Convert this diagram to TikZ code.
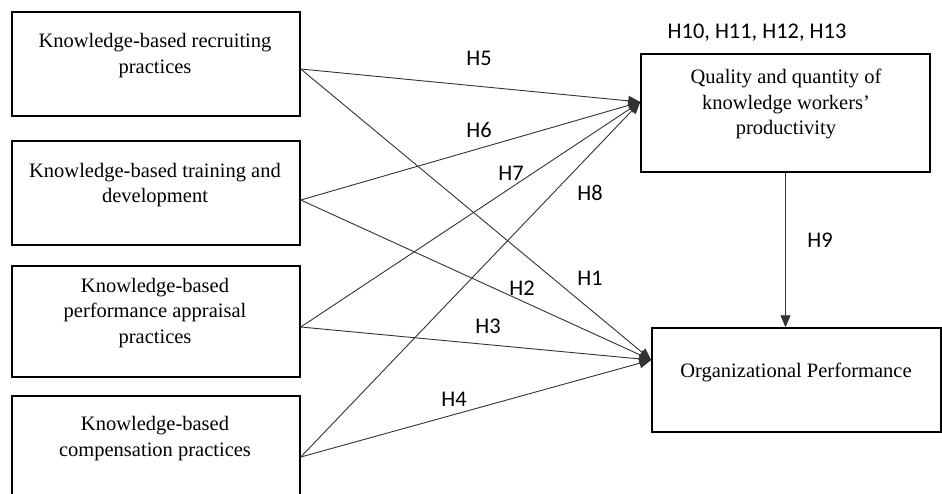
\documentclass[tikz,border=0pt]{standalone}
\usepackage{fontspec}
\setmainfont{Liberation Serif}
\newfontfamily\labfont{Carlito}
\usetikzlibrary{arrows.meta}
\begin{document}
\begin{tikzpicture}[x=1pt,y=-1pt,
  box/.style={draw=black,line width=1.5pt,rectangle,inner sep=0pt},
  boxtext/.style={align=center,font=\fontsize{20.5}{25.5}\selectfont,inner sep=0pt},
  hyp/.style={font=\labfont\fontsize{22.4}{26}\selectfont,inner sep=0pt},
  link/.style={draw=black!80,line width=0.9pt,-{Triangle[length=12pt,width=10pt]}}]
\useasboundingbox (0,0) rectangle (942,493);
\clip (0,0) rectangle (942,493);
\fill[white] (0,0) rectangle (942,493);
% boxes
\node[box,minimum width=288pt,minimum height=104pt] (b1) at (156,64) {};
\node[box,minimum width=288pt,minimum height=104pt] (b2) at (156,193) {};
\node[box,minimum width=288pt,minimum height=111pt] (b3) at (156,321.5) {};
\node[box,minimum width=288pt,minimum height=111pt] (b4) at (156,451.5) {};
\node[box,minimum width=289pt,minimum height=118pt] (q) at (785.5,113) {};
\node[box,minimum width=289pt,minimum height=104pt] (o) at (796.5,380) {};
% texts
\node[boxtext] (t1) at (155,55.5) {Knowledge-based recruiting\\practices};
\node[boxtext] (t2) at (155,185) {Knowledge-based training and\\development};
\node[boxtext] (t3) at (155,313) {Knowledge-based\\performance appraisal\\practices};
\node[boxtext] (t4) at (155,438.5) {Knowledge-based\\compensation practices};
\node[boxtext] (tq) at (786,104) {Quality and quantity of\\knowledge workers’\\productivity};
\node[boxtext] (to) at (796,372) {Organizational Performance};
% anchors for connectors
\coordinate (s1) at ([yshift=-5pt]b1.east);
\coordinate (s2) at ([yshift=-7pt]b2.east);
\coordinate (s3) at ([yshift=-5.5pt]b3.east);
\coordinate (s4) at ([yshift=-5.5pt]b4.east);
\coordinate (eq) at ([yshift=11pt]q.west);
\coordinate (eo) at ([yshift=20pt]o.west);
% connectors
\draw[link] (s1) -- (eq);
\draw[link] (s2) -- (eq);
\draw[link] (s3) -- (eq);
\draw[link] (s4) -- (eq);
\draw[link] (s1) -- (eo);
\draw[link] (s2) -- (eo);
\draw[link] (s3) -- (eo);
\draw[link] (s4) -- (eo);
\draw[link] (q.south) -- (o.north -| q.south);
% labels
\node[hyp] (h5) at (479,58) {H5};
\node[hyp] (h6) at (479,130) {H6};
\node[hyp] (h7) at (511,173) {H7};
\node[hyp] (h8) at (590,193) {H8};
\node[hyp] (h1) at (590,278) {H1};
\node[hyp] (h2) at (522,288) {H2};
\node[hyp] (h3) at (488,326) {H3};
\node[hyp] (h4) at (454,399) {H4};
\node[hyp] (h9) at (820,240) {H9};
\node[hyp] (h10) at (757,33) {H10, H11, H12, H13};
\end{tikzpicture}
\end{document}
